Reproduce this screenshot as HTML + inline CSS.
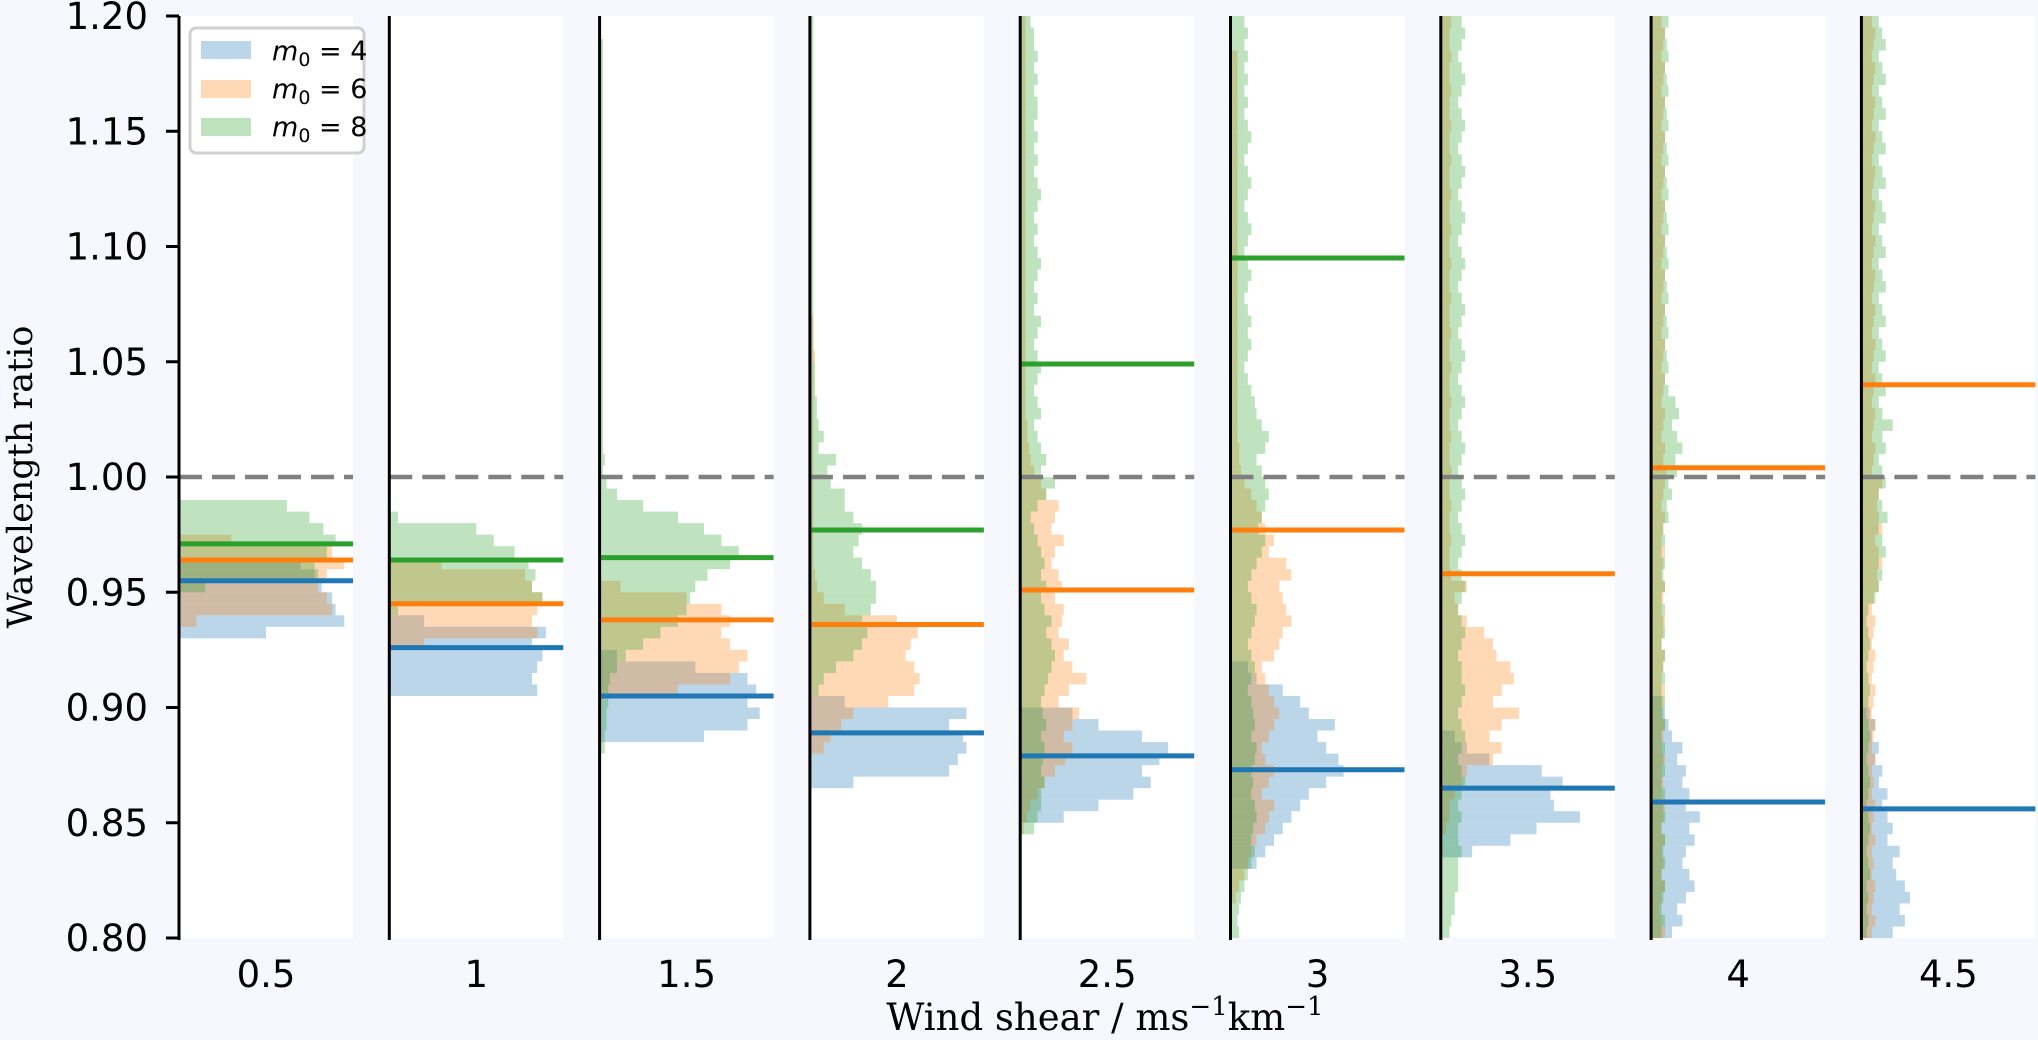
<!DOCTYPE html>
<html><head><meta charset="utf-8"><style>
html,body{margin:0;padding:0;background:#f7f8fd;}
svg{display:block;}
</style></head><body>
<svg id="fig" width="2038" height="1040" viewBox="0 0 2038 1040" xmlns="http://www.w3.org/2000/svg">
<rect x="0" y="0" width="2038" height="1040" fill="#f7f8fd"/>
<g id="panels"></g>
<g id="yaxis"></g>
<text transform="translate(32,477) rotate(-90)" text-anchor="middle" font-family="'DejaVu Serif','Liberation Serif',serif" font-size="35" fill="#000">Wavelength ratio</text>
<text x="1105" y="1030" text-anchor="middle" font-family="'DejaVu Serif','Liberation Serif',serif" font-size="37" fill="#000">Wind shear / ms<tspan dy="-15" font-size="26">−1</tspan><tspan dy="15">km</tspan><tspan dy="-15" font-size="26">−1</tspan></text>
<g>
<rect x="190" y="28" width="174" height="125" rx="6" fill="#fff" fill-opacity="0.9" stroke="#d0d0d0" stroke-width="3"/>
<rect x="201" y="41" width="50" height="18" fill="#1f77b4" fill-opacity="0.3"/>
<rect x="201" y="80" width="50" height="18" fill="#ff7f0e" fill-opacity="0.3"/>
<rect x="201" y="118" width="50" height="18" fill="#2ca02c" fill-opacity="0.3"/>
<text x="272" y="60" font-family="'DejaVu Sans',sans-serif" font-size="27"><tspan font-style="italic">m</tspan><tspan dy="6" font-size="19">0</tspan><tspan dy="-6"> = 4</tspan></text>
<text x="272" y="98" font-family="'DejaVu Sans',sans-serif" font-size="27"><tspan font-style="italic">m</tspan><tspan dy="6" font-size="19">0</tspan><tspan dy="-6"> = 6</tspan></text>
<text x="272" y="136" font-family="'DejaVu Sans',sans-serif" font-size="27"><tspan font-style="italic">m</tspan><tspan dy="6" font-size="19">0</tspan><tspan dy="-6"> = 8</tspan></text>
</g>
</svg>
<script>
const categories = ['0.5','1','1.5','2','2.5','3','3.5','4','4.5'];
const yTicks = [0.80,0.85,0.90,0.95,1.00,1.05,1.10,1.15,1.20];
const yTickLabels = ['0.80','0.85','0.90','0.95','1.00','1.05','1.10','1.15','1.20'];
const binWidth = 0.005;
const blueLo = [0.930,0.905,0.885,0.865,0.850,0.830,0.835,0.800,0.800];
const blueCounts = [
[50,95,90,88,82,78,70],
[85,82,85,88,82,90,20],
[60,85,92,85,90,85,55,10],
[25,80,85,90,88,80,90,20],
[25,45,65,75,70,80,85,70,45,30],
[15,20,25,30,35,40,45,55,65,62,55,50,60,45,40,30,15,10],
[18,40,55,80,65,63,70,58,28,15,8],
[12,18,15,20,25,22,18,20,25,22,28,20,22,18,20,15,18,12,10,8,6],
[18,25,22,28,25,20,18,22,15,18,15,12,15,10,12,8,10,6,8,5]
];
const orangeLo = [0.935,0.925,0.905,0.880,0.845,0.815,0.845,0.800,0.800];
const orangeCounts = [
[10,88,85,80,85,95,88,30],
[20,85,82,85,88,82,78,30],
[45,75,80,85,75,70,75,70,50,12],
[8,12,18,25,45,60,63,60,55,58,62,50,20,8,4,3,2,2,2,2,2,2,2,2,2,2,2,2,2,2,2,2,2,2,3,2,2,2],
[2,4,6,10,14,20,26,30,25,30,34,22,28,38,30,25,28,22,24,25,20,24,22,18,20,25,18,20,22,15,12,8,6,5,4,4,3,3,3,3,3,3,3,3,3,3,3,3,3,3,3,3,3,3,3,3,3,3,3,3,3,3,3,3,3,3,3,3,3,3,3],
[3,5,8,10,12,15,20,22,25,18,22,25,20,18,22,25,28,25,22,20,18,25,28,30,35,32,30,28,35,32,22,25,20,18,15,12,8,6,5,5,4,4,4,4,4,4,4,4,4,4,4,4,4,4,4,4,4,4,4,4,4,4,4,4,4,4,4,4,4,4,4,4,4,4],
[3,5,5,8,12,15,30,35,28,35,45,30,35,42,40,32,30,25,15,10,8,15,6,5,5,6,5,5,6,5,5,6,5,5,6,5,5,6,5,5,6,5,5,6,5,5,6,5,5,6,5,5,6,5,5,6,5,5,6,5,5,6,5,5,6,5,5,6,5,5,6],
[8,6,5,6,8,6,7,6,8,6,7,8,6,7,6,8,6,7,8,6,7,8,6,7,8,6,7,8,6,7,8,6,7,8,6,7,8,6,7,8,9,7,8,6,7,8,6,7,8,6,7,8,6,7,8,6,7,8,6,7,8,6,7,8,6,7,8,6,7,8,6,7,8,6,7,8,6,7,8,6],
[6,8,6,7,8,6,7,6,8,6,7,8,6,7,6,8,6,7,8,6,7,8,6,7,8,6,7,8,6,7,10,9,12,10,8,12,10,9,10,12,6,7,8,6,7,8,6,7,8,6,7,8,6,7,8,6,7,8,6,7,8,6,7,8,6,7,8,6,7,8,6,7,8,6,7,8,6,7,8,6]
];
const greenLo = [0.950,0.940,0.880,0.905,0.845,0.800,0.800,0.800,0.800];
const greenCounts = [
[15,80,78,85,90,83,75,62],
[5,88,82,84,80,72,60,50,5],
[3,3,4,4,5,5,6,10,15,25,35,45,50,52,55,62,75,80,70,60,45,25,10,4,2,3,2,2,2,2,2,2,2,2,2,2,2,2,2,2,2,2,2,2,2,2,2,2,2,2,2,2,2,2,2,2,2,2,2,2,2,2],
[5,8,15,25,30,33,30,35,38,38,35,30,25,28,30,25,20,20,12,10,15,5,8,5,4,4,3,3,3,2,2,2,2,2,2,2,2,2,2,2,2,2,2,2,2,2,2,2,2,2,2,2,2,2,2,2,2,2,2],
[8,10,12,12,14,12,13,14,12,15,13,12,14,16,18,20,18,15,18,14,12,15,12,14,12,10,8,6,10,15,20,12,15,12,10,8,12,10,8,10,12,10,8,10,12,8,10,8,10,12,10,8,10,8,10,12,10,8,10,8,10,8,10,10,8,10,8,10,8,8,6],
[5,4,5,6,8,10,12,14,12,13,15,14,12,13,12,14,15,12,14,13,12,10,12,14,12,10,12,14,15,12,10,12,15,18,20,16,18,20,22,20,18,15,20,22,18,15,14,12,10,8,10,12,10,12,10,8,10,12,10,8,10,12,10,8,10,12,10,8,10,12,10,8,10,8,10,8,10,8,10,8],
[5,6,8,8,10,10,10,12,10,10,12,10,12,14,12,10,12,14,12,10,12,14,12,12,10,12,14,12,10,12,14,12,10,12,14,12,10,12,14,12,10,12,14,12,10,12,14,12,10,12,14,12,10,12,14,12,10,12,14,12,10,12,14,12,10,12,14,12,10,12,14,12,10,12,14,12,10,12,14,12],
[6,8,6,7,8,6,8,7,8,6,8,7,8,6,8,7,8,6,8,7,8,6,8,7,8,6,8,7,8,6,8,7,8,6,8,7,10,9,12,10,15,14,18,15,12,16,14,10,8,10,9,8,10,9,8,10,9,8,10,9,8,10,9,8,10,9,8,10,9,8,10,9,8,10,9,8,10,9,8,10],
[3,4,3,4,3,5,4,3,4,5,4,3,4,5,4,3,4,5,4,3,4,5,4,3,4,5,4,3,4,8,10,12,10,14,12,10,15,12,10,14,12,10,14,12,18,12,10,14,12,10,14,12,10,14,12,10,14,12,10,14,12,10,14,12,10,14,12,10,14,12,10,14,12,10,14,12,10,14,12,10]
];
const medBlue = [0.955,0.926,0.905,0.889,0.879,0.873,0.865,0.859,0.856];
const medOrange = [0.964,0.945,0.938,0.936,0.951,0.977,0.958,1.004,1.040];
const medGreen = [0.971,0.964,0.965,0.977,1.049,1.095,null,null,null];

const NS='http://www.w3.org/2000/svg';
const TOP=16, BOT=938, YMIN=0.80, YMAX=1.20;
const PX0=179, PSTEP=210.3, PW=174;
function yScale(v){return TOP+(YMAX-v)/(YMAX-YMIN)*(BOT-TOP);}
function xPanel(i){return PX0+i*PSTEP;}
function wScale(c){return c/100*PW;}
function mk(tag,attrs,parent){const e=document.createElementNS(NS,tag);for(const k in attrs)e.setAttribute(k,attrs[k]);parent.appendChild(e);return e;}
const panelsG=document.getElementById('panels');
const colors={blue:'#1f77b4',orange:'#ff7f0e',green:'#2ca02c'};
function drawHist(g,i,lo,counts,color,name){
  const x0=xPanel(i);
  counts.forEach((c,k)=>{
    const v0=lo+k*binWidth, v1=v0+binWidth;
    if(v0>=YMAX||c<=0)return;
    const yt=yScale(Math.min(v1,YMAX)), yb=yScale(v0);
    const r=mk('rect',{x:x0,y:yt,width:Math.min(wScale(c),PW),height:yb-yt,fill:color,'fill-opacity':0.3},g);
    
    
  });
}
categories.forEach((cat,i)=>{
  const g=mk('g',{},panelsG);
  
  
  const x0=xPanel(i);
  const bg=mk('rect',{x:x0,y:TOP,width:PW,height:BOT-TOP,fill:'#fff'},g);
  
  
  drawHist(g,i,blueLo[i],blueCounts[i],colors.blue,'m4-hist');
  drawHist(g,i,orangeLo[i],orangeCounts[i],colors.orange,'m6-hist');
  drawHist(g,i,greenLo[i],greenCounts[i],colors.green,'m8-hist');
  const dl=mk('line',{x1:x0,x2:x0+PW,y1:yScale(1.0),y2:yScale(1.0),stroke:'#808080','stroke-width':4.5,'stroke-dasharray':'23 10'},g);
  
  
  [[medBlue,colors.blue,'m4'],[medOrange,colors.orange,'m6'],[medGreen,colors.green,'m8']].forEach(([arr,col,nm])=>{
    const v=arr[i]; if(v===null||v>YMAX)return;
    const l=mk('line',{x1:x0,x2:x0+PW,y1:yScale(v),y2:yScale(v),stroke:col,'stroke-width':5},g);
    
    
  });
  const sp=mk('line',{x1:x0,x2:x0,y1:TOP,y2:BOT+2,stroke:'#000','stroke-width':3},g);
  
  
  const t=mk('text',{x:x0+PW/2,y:987,'text-anchor':'middle','font-family':"'DejaVu Sans',sans-serif",'font-size':37,fill:'#000'},g);
  t.textContent=cat;
  
  
});
const ya=document.getElementById('yaxis');
yTicks.forEach((v,k)=>{
  const y=yScale(v);
  const tl=mk('line',{x1:166,x2:179,y1:y,y2:y,stroke:'#000','stroke-width':3},ya);
  
  
  const t=mk('text',{x:148,y:y+13,'text-anchor':'end','font-family':"'DejaVu Sans',sans-serif",'font-size':37,fill:'#000'},ya);
  t.textContent=yTickLabels[k];
  
  
});
</script>
</body></html>
